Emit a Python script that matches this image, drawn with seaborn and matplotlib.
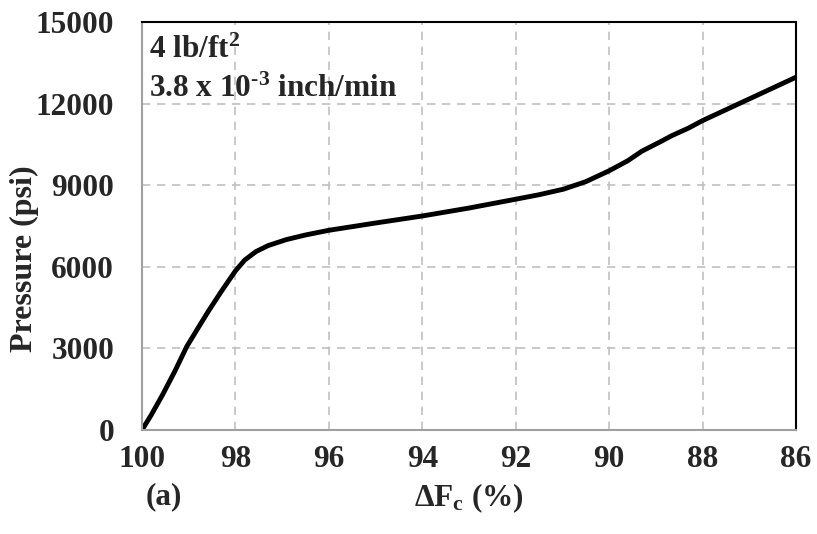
import matplotlib
matplotlib.use("Agg")
import matplotlib.pyplot as plt
import seaborn as sns
import pandas as pd

# Data
delta_fc = [100.0, 99.8, 99.56, 99.3, 99.04, 98.8, 98.58, 98.3, 98.0, 97.8,
            97.56, 97.3, 96.91, 96.5, 96.0, 95.0, 94.0, 93.0, 92.0, 91.5,
            90.98, 90.5, 90.0, 89.6, 89.3, 88.9, 88.66, 88.3, 88.0, 87.0, 86.0]
pressure = [0, 560, 1294, 2150, 3074, 3750, 4364, 5100, 5850, 6250,
            6560, 6780, 7000, 7170, 7342, 7610, 7868, 8160, 8485, 8650,
            8853, 9130, 9530, 9900, 10250, 10600, 10820, 11100, 11375, 12172, 12970]
x_ticks = [100, 98, 96, 94, 92, 90, 88, 86]
y_ticks = [0, 3000, 6000, 9000, 12000, 15000]

sns.set_theme(style="white")
plt.rcParams["font.family"] = ["Liberation Serif", "DejaVu Serif"]
plt.rcParams["font.weight"] = "bold"
plt.rcParams["mathtext.fontset"] = "custom"
plt.rcParams["mathtext.rm"] = "Liberation Serif:bold"
plt.rcParams["mathtext.it"] = "Liberation Serif:bold"
plt.rcParams["mathtext.bf"] = "Liberation Serif:bold"

df = pd.DataFrame({"dfc": delta_fc, "p": pressure})

fig = plt.figure(figsize=(8.17, 5.34), dpi=100)
ax = fig.add_axes([142/817, 1-430/534, (796-142)/817, (430-22)/534])

sns.lineplot(data=df, x="dfc", y="p", sort=False, color="black", linewidth=3.5, ax=ax)
for l in ax.lines:
    l.set_solid_joinstyle("round")
    l.set_solid_capstyle("round")

ax.set_xlim(100, 86)
ax.set_ylim(0, 15000)
ax.set_xticks(x_ticks)
ax.set_yticks(y_ticks)
ax.set_xticklabels([str(v) for v in x_ticks], fontsize=22.5, fontweight="bold")
ax.set_yticklabels([str(v) for v in y_ticks], fontsize=22.5, fontweight="bold")
ax.tick_params(axis="x", direction="in", length=5, color="#a0a0a0", width=1, pad=11)
ax.tick_params(axis="y", length=0, pad=20)
ax.grid(True, linestyle=(0, (5, 4)), color="#c0c0c0", linewidth=1.2)

for side in ["left", "bottom"]:
    ax.spines[side].set_color("#a0a0a0")
    ax.spines[side].set_linewidth(1.5)
for side in ["top", "right"]:
    ax.spines[side].set_color("black")
    ax.spines[side].set_linewidth(1.5)

ax.set_xlabel(r"$\Delta$F$_{\mathrm{c}}$ (%)", fontsize=22.5, fontweight="bold", labelpad=5)
ax.set_ylabel("Pressure (psi)", fontsize=23, fontweight="bold")
ax.yaxis.set_label_coords(-0.158, 0.42)

ax.text(0.01, 0.93, r"4 lb/ft$^{2}$", transform=ax.transAxes, fontsize=22.5,
        fontweight="bold", va="center", ha="left")
ax.text(0.01, 0.835, r"3.8 x 10$^{\text{-3}}$ inch/min", transform=ax.transAxes, fontsize=22.5,
        fontweight="bold", va="center", ha="left")

fig.text(146/817, 1-497/534, "(a)", fontsize=22.5, fontweight="bold", ha="left", va="center")

fig.savefig("out.png", dpi=100)
